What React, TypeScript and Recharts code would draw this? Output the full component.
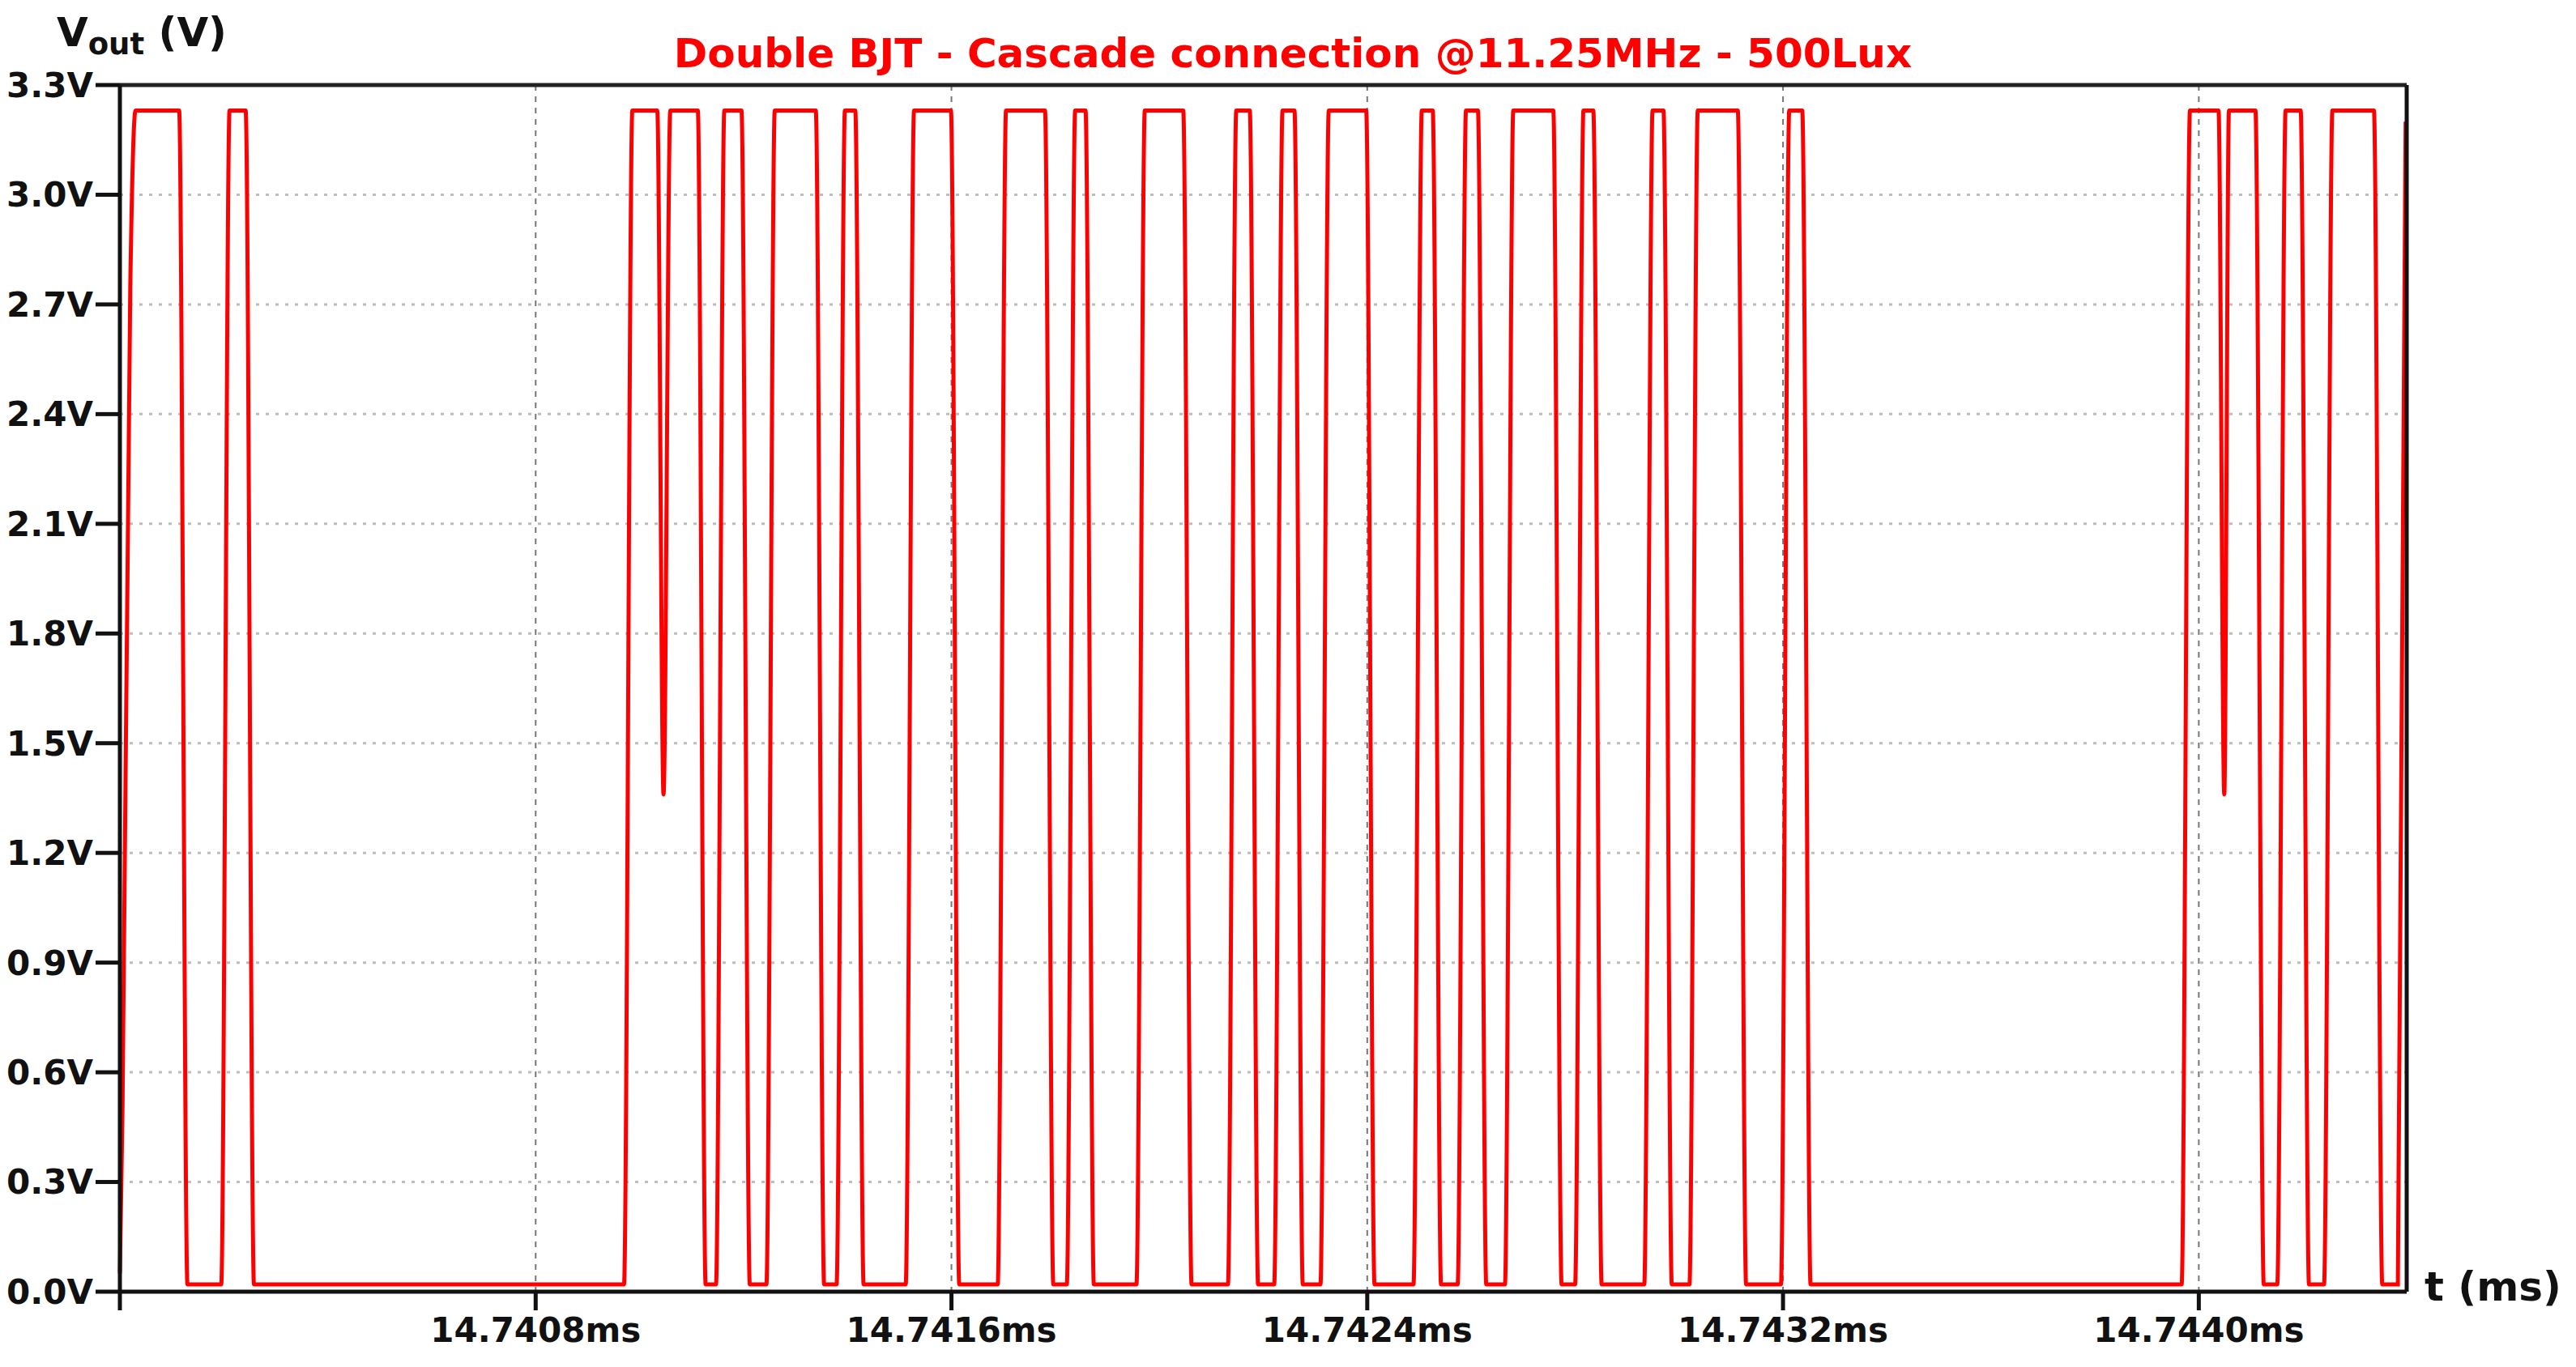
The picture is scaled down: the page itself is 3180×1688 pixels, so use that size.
import React from 'react';
import { LineChart, Line, XAxis, YAxis, CartesianGrid, ReferenceLine } from 'recharts';

// time in ns after 14.7400 ms
const timeNs = [
  0, 5, 20, 30, 114, 130,
  195, 211, 242, 258,
  970, 986, 1034, 1046, 1059, 1112, 1127,
  1147, 1163, 1196, 1212,
  1244, 1260, 1339, 1355,
  1379, 1395, 1415, 1431,
  1512, 1528, 1599, 1615,
  1689, 1705, 1780, 1796,
  1822, 1838, 1858, 1874,
  1956, 1972, 2046, 2062,
  2132, 2148, 2174, 2190,
  2221, 2237, 2260, 2276,
  2310, 2326, 2398, 2414,
  2489, 2505, 2526, 2542,
  2574, 2590, 2613, 2629,
  2665, 2681, 2758, 2774,
  2800, 2816, 2835, 2851,
  2933, 2949, 2970, 2986,
  3020, 3036, 3113, 3129,
  3196, 3212, 3237, 3253,
  3967, 3983, 4038, 4049, 4058, 4109, 4125,
  4151, 4167, 4196, 4212,
  4241, 4257, 4337, 4353,
  4383, 4398,
];

const vout = [
  0.05, 0.5, 2.75, 3.23, 3.23, 0.02,
  0.02, 3.23, 3.23, 0.02,
  0.02, 3.23, 3.23, 1.36, 3.23, 3.23, 0.02,
  0.02, 3.23, 3.23, 0.02,
  0.02, 3.23, 3.23, 0.02,
  0.02, 3.23, 3.23, 0.02,
  0.02, 3.23, 3.23, 0.02,
  0.02, 3.23, 3.23, 0.02,
  0.02, 3.23, 3.23, 0.02,
  0.02, 3.23, 3.23, 0.02,
  0.02, 3.23, 3.23, 0.02,
  0.02, 3.23, 3.23, 0.02,
  0.02, 3.23, 3.23, 0.02,
  0.02, 3.23, 3.23, 0.02,
  0.02, 3.23, 3.23, 0.02,
  0.02, 3.23, 3.23, 0.02,
  0.02, 3.23, 3.23, 0.02,
  0.02, 3.23, 3.23, 0.02,
  0.02, 3.23, 3.23, 0.02,
  0.02, 3.23, 3.23, 0.02,
  0.02, 3.23, 3.23, 1.36, 3.23, 3.23, 0.02,
  0.02, 3.23, 3.23, 0.02,
  0.02, 3.23, 3.23, 0.02,
  0.02, 3.2,
];

const xTicks = [0, 800, 1600, 2400, 3200, 4000];
const yTicks = [0, 0.3, 0.6, 0.9, 1.2, 1.5, 1.8, 2.1, 2.4, 2.7, 3.0, 3.3];

const title = 'Double BJT - Cascade connection @11.25MHz - 500Lux';

const waveform = timeNs.map((t, i) => ({ t, v: vout[i] }));

const FONT = '"DejaVu Sans", Verdana, sans-serif';
const tickStyle = { fill: '#111', fontSize: 42, fontWeight: 'bold', fontFamily: FONT };

const App: React.FC = () => {
  return (
    <div style={{ position: 'absolute', left: 0, top: 0, width: 3180, height: 1688, background: '#fff' }}>
      <LineChart
        width={3180}
        height={1688}
        data={waveform}
        margin={{ top: 105, right: 209, bottom: 0, left: 0 }}
      >
        <CartesianGrid vertical={false} stroke="#bdbdbd" strokeWidth={3} strokeDasharray="4 8" />
        <CartesianGrid horizontal={false} stroke="#777" strokeWidth={2} strokeDasharray="7 7" />
        <XAxis
          type="number"
          dataKey="t"
          domain={[0, 4400]}
          ticks={xTicks}
          interval={0}
          height={93}
          tickSize={23}
          tickMargin={9}
          tick={tickStyle}
          tickLine={{ stroke: '#111', strokeWidth: 5 }}
          axisLine={{ stroke: '#111', strokeWidth: 5 }}
          tickFormatter={(t: number) => (t === 0 ? '' : (14.74 + t / 1e6).toFixed(4) + 'ms')}
        />
        <YAxis
          type="number"
          domain={[0, 3.3]}
          ticks={yTicks}
          interval={0}
          width={148}
          tickSize={30}
          tickMargin={3}
          tick={tickStyle}
          tickLine={{ stroke: '#111', strokeWidth: 5 }}
          axisLine={{ stroke: '#111', strokeWidth: 5 }}
          tickFormatter={(v: number) => v.toFixed(1) + 'V'}
        />
        <Line
          type="monotone"
          dataKey="v"
          stroke="#ff0000"
          strokeWidth={5}
          dot={false}
          isAnimationActive={false}
        />
        <ReferenceLine y={3.3} stroke="#222" strokeWidth={5} />
        <ReferenceLine x={4400} stroke="#111" strokeWidth={5} />
      </LineChart>

      {/* title and axis names */}
      <svg
        width={3180}
        height={1688}
        style={{ position: 'absolute', left: 0, top: 0, pointerEvents: 'none' }}
      >
        <text x={1596} y={83} textAnchor="middle" fontFamily={FONT} fontWeight="bold" fontSize={50} fill="#ff0000">
          {title}
        </text>
        <text x={70} y={57} fontFamily={FONT} fontWeight="bold" fontSize={50} fill="#111">
          V
          <tspan fontSize={37} dy={10}>out</tspan>
          <tspan fontSize={50} dy={-10}> (V)</tspan>
        </text>
        <text x={2993} y={1606} fontFamily={FONT} fontWeight="bold" fontSize={50} fill="#111">
          t (ms)
        </text>
      </svg>
    </div>
  );
};

export default App;
